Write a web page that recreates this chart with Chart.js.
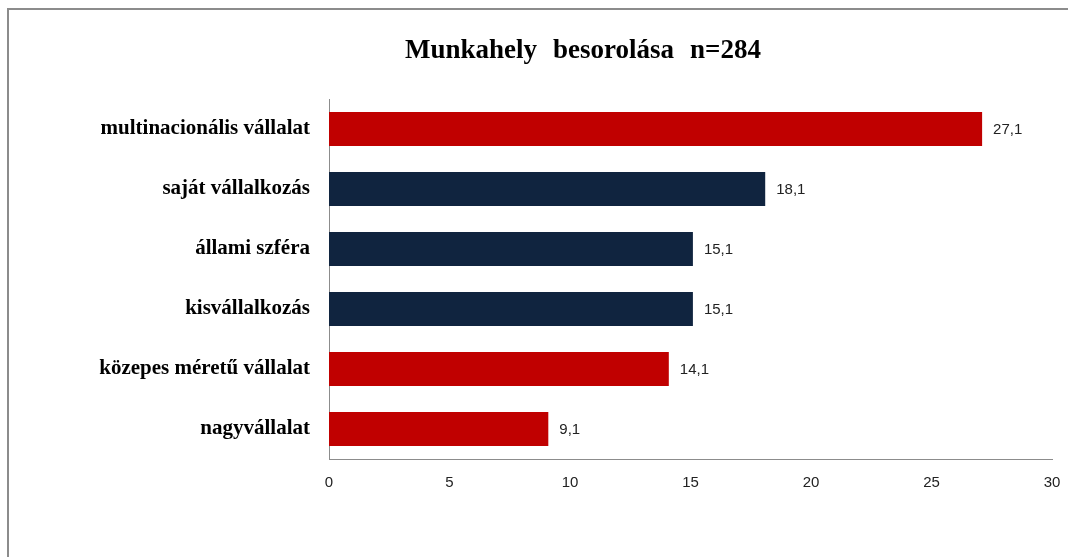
<!DOCTYPE html>
<html lang="hu">
<head>
<meta charset="utf-8">
<title>Munkahely besorolása</title>
<script src="https://cdn.jsdelivr.net/npm/chart.js@4/dist/chart.umd.min.js"></script>
<style>
  html, body { margin: 0; padding: 0; background: #fff; }
  #wrap { position: relative; width: 1068px; height: 557px; overflow: hidden; }
  #frame {
    position: absolute; left: 7px; top: 8px; right: -4px; bottom: -4px;
    border-left: 2px solid #8c8c8c; border-top: 2px solid #8c8c8c;
    pointer-events: none;
  }
  #workplaceChart { position: absolute; left: 0; top: 0; }
</style>
</head>
<body>
<div id="wrap">
  <canvas id="workplaceChart" width="1068" height="557"></canvas>
  <div id="frame"></div>
</div>
<script>
'use strict';

// Workplace categories and their share (%)
const titleText = 'Munkahely besorolása n=284';
const categories = [
  'multinacionális vállalat',
  'saját vállalkozás',
  'állami szféra',
  'kisvállalkozás',
  'közepes méretű vállalat',
  'nagyvállalat',
];
const shares = [27.1, 18.1, 15.1, 15.1, 14.1, 9.1];
const xTicks = [0, 5, 10, 15, 20, 25, 30];

// company-size groups are red, the rest navy
const RED = '#c00000';
const NAVY = '#10243f';
const barColors = [RED, NAVY, NAVY, NAVY, RED, RED];

const SERIF = '"Liberation Serif", "Times New Roman", serif';
const SANS = '"Liberation Sans", Arial, sans-serif';

// title with wide word gaps, drawn word by word
const titlePlugin = {
  id: 'wideTitle',
  afterDraw(chart) {
    const ctx = chart.ctx;
    const words = titleText.split(' ');
    const gap = 16;
    ctx.save();
    ctx.font = 'bold 27px ' + SERIF;
    ctx.fillStyle = '#000';
    ctx.textBaseline = 'alphabetic';
    const widths = words.map((w) => ctx.measureText(w).width);
    const total = widths.reduce((a, b) => a + b, 0) + gap * (words.length - 1);
    let x = 583 - total / 2;
    words.forEach((w, i) => {
      ctx.fillText(w, x, 58);
      x += widths[i] + gap;
    });
    ctx.restore();
  },
};

// writes the value with a decimal comma next to each bar end
const valueLabels = {
  id: 'valueLabels',
  afterDatasetsDraw(chart) {
    const ctx = chart.ctx;
    const meta = chart.getDatasetMeta(0);
    ctx.save();
    ctx.font = '15px ' + SANS;
    ctx.fillStyle = '#222';
    ctx.textAlign = 'left';
    ctx.textBaseline = 'middle';
    meta.data.forEach((bar, i) => {
      const txt = shares[i].toFixed(1).replace('.', ',');
      ctx.fillText(txt, bar.x + 11, bar.y + 1);
    });
    ctx.restore();
  },
};

const workplaceChart = new Chart(document.getElementById('workplaceChart'), {
  type: 'bar',
  data: {
    labels: categories,
    datasets: [
      {
        data: shares,
        backgroundColor: barColors,
        borderWidth: 0,
        barPercentage: 0.567,
        categoryPercentage: 1,
      },
    ],
  },
  plugins: [valueLabels, titlePlugin],
  options: {
    indexAxis: 'y',
    responsive: false,
    animation: false,
    layout: { padding: { left: 0, right: 16, top: 99, bottom: 0 } },
    plugins: {
      legend: { display: false },
      tooltip: { enabled: false },
      title: { display: false },
    },
    scales: {
      x: {
        min: 0,
        max: 30,
        afterBuildTicks(axis) {
          axis.ticks = xTicks.map((v) => ({ value: v }));
        },
        afterFit(axis) {
          axis.height = 98;
          axis.paddingLeft = 0;
          axis.paddingRight = 0;
        },
        grid: { display: false, drawTicks: false },
        border: { display: true, color: '#8c8c8c', width: 1 },
        ticks: {
          padding: 15,
          color: '#222',
          maxRotation: 0,
          font: { family: SANS, size: 15 },
        },
      },
      y: {
        afterFit(axis) {
          axis.width = 329;
          axis.paddingTop = 0;
          axis.paddingBottom = 0;
        },
        grid: { display: false, drawTicks: false },
        border: { display: true, color: '#8c8c8c', width: 1 },
        ticks: {
          padding: 19,
          color: '#000',
          font: { family: SERIF, size: 21, weight: 'bold' },
        },
      },
    },
  },
});
</script>
</body>
</html>
